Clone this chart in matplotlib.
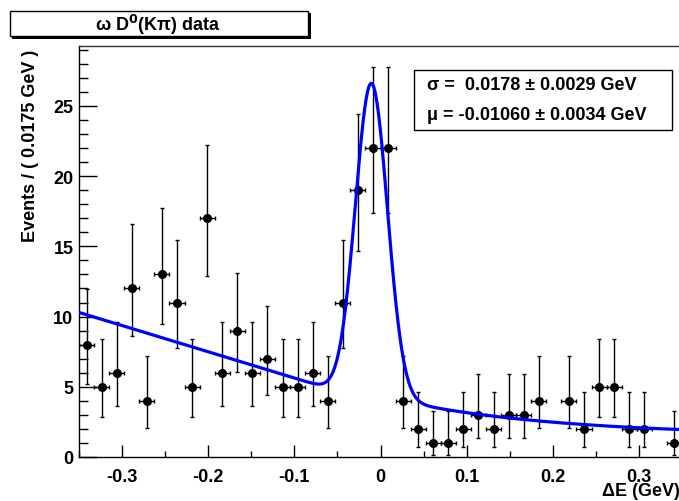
import matplotlib

matplotlib.use("Agg")
import matplotlib.pyplot as plt
import numpy as np
from matplotlib.patches import Rectangle
from math import erf

plt.rcParams.update({"font.family": ["Liberation Sans", "DejaVu Sans"], "font.weight": "bold"})

# binning: 40 bins of 0.0175 GeV over [-0.35, 0.35]
X_LO, X_HI, BIN_W = -0.35, 0.35, 0.0175
# events per bin (0 = empty bin, not drawn)
counts = [8, 5, 6, 12, 4, 13, 11, 5, 17, 6,
          9, 6, 7, 5, 5, 6, 4, 11, 19, 22,
          22, 4, 2, 1, 1, 2, 3, 2, 3, 3,
          4, 0, 4, 2, 5, 5, 2, 2, 0, 1]
# 68% Poisson intervals (low, high) for the counts seen
poisson_68 = {1: (0.173, 3.300), 2: (0.708, 4.638), 3: (1.367, 5.918), 4: (2.086, 7.163),
              5: (2.840, 8.382), 6: (3.620, 9.584), 7: (4.419, 10.77), 8: (5.232, 11.95),
              9: (6.057, 13.11), 11: (7.734, 15.42), 12: (8.585, 16.56), 13: (9.441, 17.70),
              17: (12.92, 22.20), 19: (14.68, 24.44), 22: (17.35, 27.76)}

# fit result
SIGMA, SIGMA_ERR = 0.0178, 0.0029
MU, MU_ERR = -0.01060, 0.0034
# curve shape as drawn
peak_amp, peak_width = 22.4, 0.0186
bkg_left = (3.75, -18.7)          # a + b*x below the peak
bkg_right = (1.52, 2.14, 5.34)    # c0 + c1*exp(-k*(x-0.05)) above the peak


def model(x):
    s = np.array([0.5 * (1 + erf((v - MU) / (np.sqrt(2) * peak_width))) for v in x])
    left = bkg_left[0] + bkg_left[1] * x
    right = bkg_right[0] + bkg_right[1] * np.exp(-bkg_right[2] * (x - 0.05))
    sig = peak_amp * np.exp(-0.5 * ((x - MU) / peak_width) ** 2)
    return sig + left * (1 - s) + right * s


W, H = 679, 502
FS = 13
fig = plt.figure(figsize=(W / 100, H / 100), dpi=100)
ax = fig.add_axes([79 / W, 44 / H, 603 / W, 411 / H])

centers = X_LO + BIN_W * (np.arange(len(counts)) + 0.5)
n = np.array(counts, dtype=float)
keep = n > 0
lo = np.array([c - poisson_68[c][0] for c in counts if c > 0])
hi = np.array([poisson_68[c][1] - c for c in counts if c > 0])
ax.errorbar(centers[keep], n[keep], yerr=[lo, hi], xerr=BIN_W / 2, fmt="o", color="black",
            ms=5.5, elinewidth=1, capsize=1.6, capthick=1, zorder=2)

xs = np.linspace(X_LO, X_HI, 800)
ax.plot(xs, model(xs), color="#0000ff", lw=2.3, zorder=3)

ax.set_xlim(X_LO, X_HI)
ax.set_ylim(0, 29.27)
ax.set_xticks([-0.3, -0.2, -0.1, 0, 0.1, 0.2, 0.3])
ax.set_xticklabels(["-0.3", "-0.2", "-0.1", "0", "0.1", "0.2", "0.3"])
ax.set_xticks(np.arange(-0.35, 0.36, 0.05), minor=True)
ax.set_yticks([0, 5, 10, 15, 20, 25])
ax.set_yticks(np.arange(0, 30, 1), minor=True)
ax.tick_params(which="both", direction="in", top=False, right=False, labelsize=FS, width=1)
ax.tick_params(axis="x", which="major", length=9, pad=8)
ax.tick_params(axis="x", which="minor", length=4.5)
ax.tick_params(axis="y", which="major", length=13, pad=4)
ax.tick_params(axis="y", which="minor", length=6.5)
for sp in ax.spines.values():
    sp.set_linewidth(1)
ax.spines["top"].set_color("#333333")

fig.text(31 / W, 1 - 50 / H, "Events / ( 0.0175 GeV )", rotation=90, ha="center", va="top",
         fontsize=FS, fontweight="bold")
fig.text(680 / W, 1 - 492 / H, "\u0394E (GeV)", ha="right", va="center", fontsize=FS,
         fontweight="bold")

# title box with shadow
fig.patches.append(Rectangle((12 / W, 1 - 40 / H), 299 / W, 26 / H, transform=fig.transFigure,
                             facecolor="black", edgecolor="black", lw=0))
fig.patches.append(Rectangle((10 / W, 1 - 37 / H), 298 / W, 25 / H, transform=fig.transFigure,
                             facecolor="white", edgecolor="black", lw=1))
fig.text(158 / W, 1 - 24.5 / H, r"$\mathregular{\omega}$ D$^{\mathbf{0}}$(K$\mathregular{\pi}$) data",
         ha="center", va="center", fontsize=FS, fontweight="bold")

# fit parameter box
fig.patches.append(Rectangle((414 / W, 1 - 131 / H), 258 / W, 60 / H, transform=fig.transFigure,
                             facecolor="white", edgecolor="black", lw=1, zorder=5))
fig.text(427 / W, 1 - 86 / H, f"\u03c3 =  {SIGMA:.4f} \u00b1 {SIGMA_ERR:.4f} GeV",
         ha="left", va="center", fontsize=FS, fontweight="bold", zorder=6)
fig.text(427 / W, 1 - 116 / H, f"\u03bc = {MU:.5f} \u00b1 {MU_ERR:.4f} GeV",
         ha="left", va="center", fontsize=FS, fontweight="bold", zorder=6)

fig.savefig("out.png", dpi=100)
